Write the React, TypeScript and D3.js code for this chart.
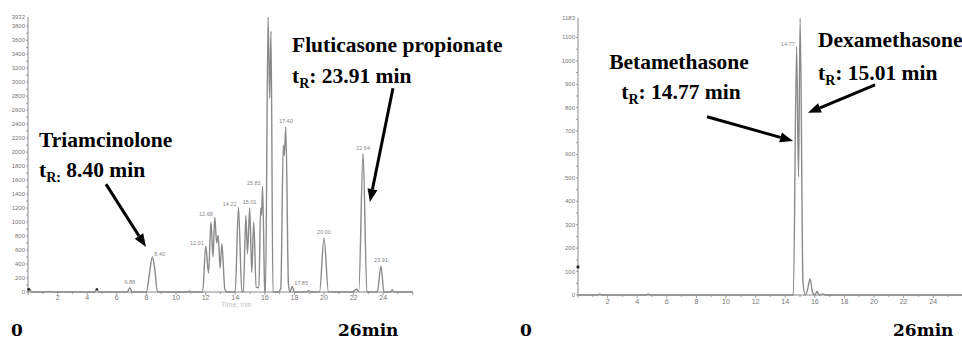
import React from "react";
import * as d3 from "d3";

// ---------- data ----------
const leftTime = [0, 0.1, 0.25, 1.2, 1.35, 1.5, 4.5, 4.65, 4.8, 6.7, 6.88, 7.05, 8.0, 8.2, 8.4, 8.55, 8.75, 10.8, 10.9, 11.0, 11.8, 12.01, 12.2, 12.36, 12.5, 12.62, 12.75, 12.85, 12.98, 13.1, 13.3, 13.45, 14.0, 14.22, 14.45, 14.55, 14.72, 14.83, 14.98, 15.12, 15.25, 15.42, 15.6, 15.72, 15.78, 15.85, 16.0, 16.05, 16.22, 16.33, 16.42, 16.55, 16.9, 17.08, 17.25, 17.32, 17.42, 17.6, 17.7, 17.85, 18.0, 18.8, 18.95, 19.1, 19.7, 20.0, 20.3, 21.9, 22.2, 22.35, 22.64, 22.9, 23.6, 23.85, 24.05, 24.5, 24.6, 24.75, 26];
const leftSignal = [0, 40, 0, 0, 8, 0, 0, 40, 0, 0, 60, 0, 0, 250, 500, 350, 0, 0, 15, 0, 0, 657, 270, 1000, 500, 1070, 700, 810, 340, 690, 40, 0, 0, 1214, 0, 0, 1090, 550, 1200, 280, 1000, 70, 60, 1200, 1100, 1510, 20, 0, 3930, 2770, 3730, 0, 0, 50, 2100, 1950, 2360, 100, 0, 80, 0, 0, 20, 0, 0, 770, 0, 0, 40, 10, 1980, 0, 0, 370, 0, 0, 30, 0, 0];

const rightTime = [0, 1.3, 1.45, 1.6, 4.6, 4.75, 4.9, 14.55, 14.77, 14.9, 15.01, 15.2, 15.35, 15.5, 15.68, 15.85, 16.0, 16.15, 16.3, 16.55, 16.7, 26];
const rightSignal = [0, 0, 4, 0, 0, 4, 0, 0, 1060, 504, 1183, 60, 0, 20, 70, 10, 0, 15, 0, 5, 0, 0];

const leftPeakLabels = ["6.88", "8.40", "12.01", "12.68", "14.22", "15.01", "15.83", "17.40", "17.85", "20.00", "22.64", "23.91"];
const leftPeakTimes = [6.88, 8.4, 12.01, 12.62, 14.22, 14.98, 15.85, 17.42, 17.85, 20.0, 22.64, 23.85];
const leftPeakHeights = [60, 500, 657, 1070, 1214, 1200, 1510, 2360, 80, 770, 1980, 370];
const leftPeakSide = ["middle", "start", "end", "end", "end", "middle", "end", "middle", "start", "middle", "middle", "middle"];

const rightPeakLabels = ["14.77"];
const rightPeakTimes = [14.77];
const rightPeakHeights = [1060];
const rightPeakSide = ["end"];

const leftYMax = 3932;
const rightYMax = 1183;
const leftYTicks = d3.range(0, 3801, 200);
const rightYTicks = d3.range(0, 1101, 100);
const xTickLabels = d3.range(2, 25, 2);

// ---------- layout ----------
const W = 962;
const H = 340;

const lx = d3.scaleLinear().domain([0, 26]).range([28, 412.8]);
const ly = d3.scaleLinear().domain([0, leftYMax]).range([292, 17]);
const rx = d3.scaleLinear().domain([0, 26]).range([578, 962.8]);
const ry = d3.scaleLinear().domain([0, rightYMax]).range([295, 18]);

const traceColor = "#8a8a8a";
const axisColor = "#8a8a8a";
const tickText = "#777";
const sans = "Liberation Sans, Arial, sans-serif";

function Arrow({ x1, y1, x2, y2 }: { x1: number; y1: number; x2: number; y2: number }) {
  const ang = Math.atan2(y2 - y1, x2 - x1);
  const L = 13;
  const Wd = 5;
  const bx = x2 - L * Math.cos(ang);
  const by = y2 - L * Math.sin(ang);
  const px = -Math.sin(ang) * Wd;
  const py = Math.cos(ang) * Wd;
  return (
    <g>
      <line x1={x1} y1={y1} x2={bx} y2={by} stroke="#000" strokeWidth={3} />
      <polygon points={`${x2},${y2} ${bx + px},${by + py} ${bx - px},${by - py}`} fill="#000" />
    </g>
  );
}

function Panel({
  x, y, time, signal, yTicks, yMax, labelEvery, peakLabels, peakTimes, peakHeights, peakSide, xLabelY,
}: any) {
  const line = d3
    .line<number>()
    .x((_, i) => x(time[i]))
    .y((d) => y(d))
    .curve(d3.curveMonotoneX);
  const path = line(signal) || "";
  const [x0, x1] = x.range();
  const y0 = y(0);
  const minor = d3.range(0, 26.01, 1);
  const yMinor = d3.range(0, yTicks[yTicks.length - 1] + 1, labelEvery / 2);
  return (
    <g>
      <line x1={x0} x2={x0} y1={y(yMax)} y2={y0} stroke={axisColor} strokeWidth={1} />
      {yMinor.map((v: number) => (
        <line key={"ym" + v} x1={x0 - 2} x2={x0} y1={y(v)} y2={y(v)} stroke={axisColor} strokeWidth={0.8} />
      ))}
      {yTicks.map((v: number) => (
        <text key={"yt" + v} x={x0 - 3} y={y(v)} dy="0.33em" textAnchor="end" fontSize={6} fill={tickText} fontFamily={sans}>
          {v}
        </text>
      ))}
      <text x={x0 - 3} y={y(yMax)} dy="0.33em" textAnchor="end" fontSize={6} fill={tickText} fontFamily={sans}>
        {yMax}
      </text>
      <line x1={x0} x2={x1} y1={y0} y2={y0} stroke={axisColor} strokeWidth={1} />
      {minor.map((v: number) => (
        <line key={"xm" + v} x1={x(v)} x2={x(v)} y1={y0} y2={y0 + (v % 2 === 0 ? 3 : 2)} stroke={axisColor} strokeWidth={0.8} />
      ))}
      {xTickLabels.map((v) => (
        <text key={"xt" + v} x={x(v)} y={xLabelY} textAnchor="middle" fontSize={7} fill={tickText} fontFamily={sans}>
          {v}
        </text>
      ))}
      <path d={path} fill="none" stroke={traceColor} strokeWidth={1.4} strokeLinejoin="round" />
      {peakLabels.map((lab: string, i: number) => {
        const side = peakSide[i];
        const px = x(peakTimes[i]);
        const py = y(peakHeights[i]);
        const tx = side === "end" ? px - 2 : side === "start" ? px + 2 : px;
        const ty = side === "middle" ? py - 4 : py - 1;
        return (
          <text key={"pl" + lab} x={tx} y={ty} textAnchor={side} fontSize={5.5} fill="#888" fontFamily={sans}>
            {lab}
          </text>
        );
      })}
    </g>
  );
}

const serif = "'Liberation Serif', 'DejaVu Serif', serif";
const bigSerif = "'DejaVu Serif', serif";
const annSize = 21.5;

function TR({ x, y, value, colonSub = false, anchor = "start" }: any) {
  return (
    <text x={x} y={y} fontFamily={serif} fontWeight="bold" fontSize={annSize} fill="#000" textAnchor={anchor}>
      <tspan>t</tspan>
      <tspan fontSize={14} dy={5}>{colonSub ? "R:" : "R"}</tspan>
      <tspan dy={-5}>{colonSub ? ` ${value} min` : `: ${value} min`}</tspan>
    </text>
  );
}

export default function App() {
  return (
    <div style={{ position: "absolute", left: 0, top: 0, width: W, height: H, background: "#fff" }}>
      <svg width={W} height={H} viewBox={`0 0 ${W} ${H}`} style={{ display: "block" }}>
        <rect width={W} height={H} fill="#fff" />
        <Panel
          x={lx}
          y={ly}
          time={leftTime}
          signal={leftSignal}
          yTicks={leftYTicks}
          yMax={leftYMax}
          labelEvery={200}
          peakLabels={leftPeakLabels}
          peakTimes={leftPeakTimes}
          peakHeights={leftPeakHeights}
          peakSide={leftPeakSide}
          xLabelY={300}
        />
        <circle cx={lx(0.05)} cy={ly(40)} r={1.5} fill="#333" />
        <circle cx={lx(4.65)} cy={ly(40)} r={1.2} fill="#333" />
        <text x={221} y={307} fontSize={7} fill="#c4c4c4" fontFamily={sans}>Time, min</text>

        <Panel
          x={rx}
          y={ry}
          time={rightTime}
          signal={rightSignal}
          yTicks={rightYTicks}
          yMax={rightYMax}
          labelEvery={100}
          peakLabels={rightPeakLabels}
          peakTimes={rightPeakTimes}
          peakHeights={rightPeakHeights}
          peakSide={rightPeakSide}
          xLabelY={304}
        />
        <circle cx={rx(0)} cy={ry(120)} r={1.6} fill="#222" />

        <text x={39} y={147} fontFamily={serif} fontWeight="bold" fontSize={annSize} fill="#000">Triamcinolone</text>
        <TR x={39} y={177} value="8.40" colonSub />
        <Arrow x1={lx(5.27)} y1={ly(1543)} x2={lx(7.97)} y2={ly(643)} />

        <text x={292} y={52} fontFamily={serif} fontWeight="bold" fontSize={annSize} fill="#000">Fluticasone propionate</text>
        <TR x={292} y={83} value="23.91" />
        <Arrow x1={lx(24.66)} y1={ly(2914)} x2={lx(23.1)} y2={ly(1286)} />

        <text x={679} y={69} fontFamily={serif} fontWeight="bold" fontSize={annSize} fill="#000" textAnchor="middle">Betamethasone</text>
        <TR x={681} y={99} value="14.77" anchor="middle" />
        <Arrow x1={rx(8.72)} y1={ry(761)} x2={rx(14.53)} y2={ry(658)} />

        <text x={818} y={47} fontFamily={serif} fontWeight="bold" fontSize={annSize} fill="#000">Dexamethasone</text>
        <TR x={818} y={80} value="15.01" />
        <Arrow x1={rx(20.07)} y1={ry(897)} x2={rx(15.54)} y2={ry(778)} />

        <text x={11} y={336} fontFamily={bigSerif} fontWeight="bold" fontSize={17} fill="#000">0</text>
        <text x={338} y={336} fontFamily={bigSerif} fontWeight="bold" fontSize={17} fill="#000">26min</text>
        <text x={520} y={336} fontFamily={bigSerif} fontWeight="bold" fontSize={17} fill="#000">0</text>
        <text x={893} y={336} fontFamily={bigSerif} fontWeight="bold" fontSize={17} fill="#000">26min</text>
      </svg>
    </div>
  );
}
